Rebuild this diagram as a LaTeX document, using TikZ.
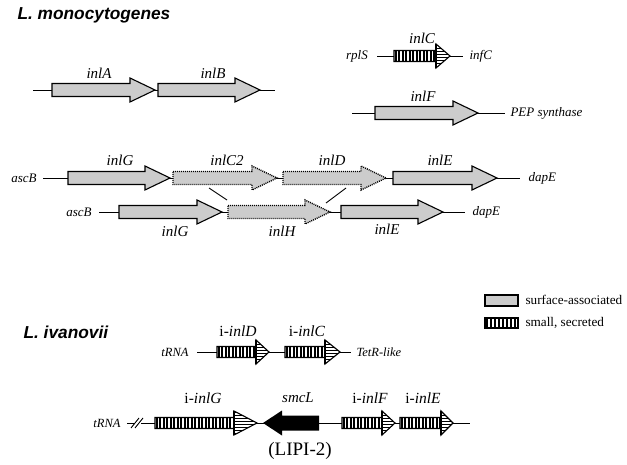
\documentclass[tikz,border=0pt]{standalone}
\usepackage{fontspec}
\setmainfont{Liberation Serif}
\newfontfamily\titlefont{Liberation Sans}
\begin{document}
\begin{tikzpicture}[x=1pt,y=-1pt,
  gl/.style={font=\fontsize{15}{15}\selectfont\itshape},
  il/.style={font=\fontsize{15.5}{15.5}\selectfont},
  fl/.style={font=\fontsize{13}{13}\selectfont\itshape},
  sl/.style={font=\fontsize{12.5}{12.5}\selectfont\itshape},
  lg/.style={font=\fontsize{13.2}{13.2}\selectfont,anchor=west},
  ttl/.style={font=\fontsize{17.3}{17.3}\selectfont\titlefont\bfseries\itshape,anchor=west},
  bb/.style={line width=0.9pt},
  outl/.style={line width=1.1pt},
  dots/.style={line width=1.4pt,dash pattern=on 1pt off 1pt}]
\useasboundingbox (0,0) rectangle (627,465);
\newcommand\graygene[4][outl]{%
  \pgfmathsetmacro\hb{#3-25}%
  \filldraw[#1,fill=black!20] (#2,#4-6.5) -- (\hb,#4-6.5) -- (\hb,#4-12) -- (#3,#4) -- (\hb,#4+12) -- (\hb,#4+6.5) -- (#2,#4+6.5) -- cycle;}
\newcommand\stripegene[4]{%
  \pgfmathsetmacro\hb{#2-#4}%
  \pgfmathsetmacro\sa{#1+1.8}%
  \pgfmathsetmacro\sb{#1+5.3}%
  \fill[white] (#1,#3-5.5) -- (\hb,#3-5.5) -- (\hb,#3-12) -- (#2,#3) -- (\hb,#3+12) -- (\hb,#3+5.5) -- (#1,#3+5.5) -- cycle;
  \begin{scope}
    \clip (#1,#3-5.5) rectangle (\hb,#3+5.5);
    \foreach \xx in {\sa,\sb,...,\hb} \draw[line width=1.8pt] (\xx,#3-6) -- (\xx,#3+6);
  \end{scope}
  \begin{scope}
    \clip (\hb,#3-12) -- (#2,#3) -- (\hb,#3+12) -- cycle;
    \foreach \yy in {-10.5,-7.5,...,10.6} \draw[line width=1.1pt] (\hb,#3+\yy) -- (#2,#3+\yy);
  \end{scope}
  \draw[outl] (#1,#3-5.5) -- (\hb,#3-5.5) -- (\hb,#3-12) -- (#2,#3) -- (\hb,#3+12) -- (\hb,#3+5.5) -- (#1,#3+5.5) -- cycle;
  \draw[outl] (\hb,#3-12) -- (\hb,#3+12);}
% ---------- titles
\node[ttl] (tmono) at (14,15) {L. monocytogenes};
\node[ttl] (tivan) at (20,332) {L. ivanovii};
% ---------- inlA / inlB
\draw[bb] (33,90) -- (275,90);
\graygene{52}{155}{90}
\graygene{158}{260}{90}
\node[gl] (lA) at (99,73) {inlA};
\node[gl] (lB) at (213,73) {inlB};
% ---------- inlC
\draw[bb] (377,56) -- (463,56);
\stripegene{394}{450}{56}{14}
\node[fl] (rplS) at (357,56) {rplS};
\node[fl,anchor=west] (infC) at (466,56) {infC};
\node[gl] (lC) at (422,38) {inlC};
% ---------- inlF
\draw[bb] (352,113) -- (505,113);
\graygene{375}{478}{113}
\node[gl] (lF) at (423,96) {inlF};
\node[fl,anchor=west] (pep) at (507,113) {PEP synthase};
% ---------- row G
\draw[bb] (43,178) -- (520,178);
\graygene{68}{170}{178}
\graygene[dots]{173}{277}{178}
\graygene[dots]{283}{386}{178}
\graygene{393}{497}{178}
\node[fl] (ascB1) at (24,178) {ascB};
\node[fl,anchor=west] (dapE1) at (525,178) {dapE};
\node[gl] (lG1) at (120,160) {inlG};
\node[gl] (lC2) at (227,160) {inlC2};
\node[gl] (lD) at (332,160) {inlD};
\node[gl] (lE1) at (440,160) {inlE};
% ---------- row H
\draw[bb] (99,212) -- (465,212);
\graygene{119}{222}{212}
\graygene[dots]{228}{330}{212}
\graygene{341}{443}{212}
\node[fl] (ascB2) at (79,212) {ascB};
\node[fl,anchor=west] (dapE2) at (469,212) {dapE};
\node[gl] (lG2) at (175,231) {inlG};
\node[gl] (lH) at (282,231) {inlH};
\node[gl] (lE2) at (387,229) {inlE};
\draw[bb] (209,188) -- (227,200);
\draw[bb] (346,188) -- (326,203);
% ---------- legend
\filldraw[outl,fill=black!20] (485,295) rectangle (518,306);
\node[lg] (leg1) at (522,300) {surface-associated};
\fill[white] (485,318) rectangle (518,328);
\begin{scope}
  \clip (485,318) rectangle (518,328);
  \foreach \xx in {487,491,...,518} \draw[line width=1.8pt] (\xx,317) -- (\xx,329);
\end{scope}
\draw[outl] (485,318) rectangle (518,328);
\node[lg] (leg2) at (522,323) {small, secreted};
% ---------- L. ivanovii row 1
\draw[bb] (197,352) -- (351,352);
\stripegene{217}{269}{352}{13}
\stripegene{285}{340}{352}{15}
\node[sl] (trna1) at (175,352) {tRNA};
\node[sl,anchor=west] (tetr) at (353,352) {TetR-like};
\node[il] (liD) at (238,331) {i-\textit{inlD}};
\node[il] (liC) at (307,331) {i-\textit{inlC}};
% ---------- L. ivanovii row 2
\draw[bb] (127,423) -- (470,423);
\draw[bb,white,line width=3pt] (135,423) -- (141,423);
\draw[bb] (131,428) -- (139,418);
\draw[bb] (135,428) -- (143,418);
\stripegene{155}{257}{423}{23}
\fill (263,423) -- (282,410.5) -- (282,415.5) -- (319,415.5) -- (319,430.5) -- (282,430.5) -- (282,435.5) -- cycle;
\stripegene{342}{395}{423}{13}
\stripegene{400}{453}{423}{12}
\node[sl] (trna2) at (107,423) {tRNA};
\node[il] (liG) at (203,398) {i-\textit{inlG}};
\node[gl] (lsmc) at (298,398) {smcL};
\node[il] (liF) at (370,398) {i-\textit{inlF}};
\node[il] (liE) at (423,398) {i-\textit{inlE}};
\node[font=\fontsize{19}{19}\selectfont] (lipi) at (300,451) {(LIPI-2)};
\end{tikzpicture}
\end{document}
